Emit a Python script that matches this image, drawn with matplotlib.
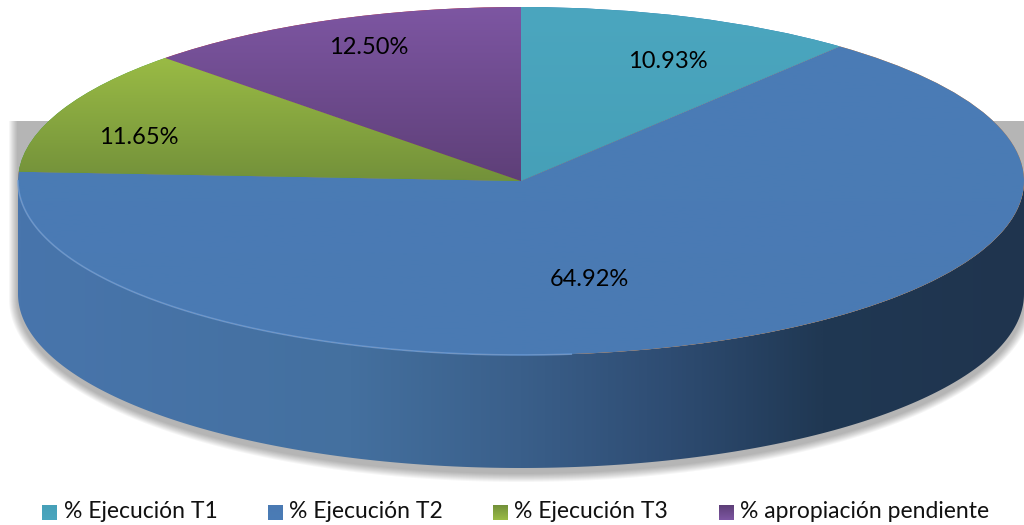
import numpy as np
import matplotlib
matplotlib.use("Agg")
import matplotlib.pyplot as plt
from matplotlib.colors import LinearSegmentedColormap
from matplotlib.patches import Polygon, Rectangle

labels = ["% Ejecución T1", "% Ejecución T2", "% Ejecución T3", "% apropiación pendiente"]
values = [10.93, 64.92, 11.65, 12.50]
top_colors = ["#4BA6BF", "#4A7CB6", "#9ABB45", "#7D56A2"]
bottom_colors = ["#46A0B8", "#4A7AB3", "#73913A", "#5E3F78"]

# picture geometry in pixels
W, H = 1024, 525
cx, cy, rx, ry = 521, 181, 503, 174
depth = 113


def px(x):
    return (x - cx) / rx


def py(y):
    return (cy - y) / ry


plt.rcParams["font.family"] = ["Lato", "DejaVu Sans"]
fig = plt.figure(figsize=(W / 100, H / 100), dpi=100)
ax = fig.add_axes([0, 0, 1, 1])

wedges, _ = ax.pie(values, startangle=90, counterclock=False, radius=1, center=(0, 0))
ax.set_aspect("auto")
ax.set_xlim(px(0), px(W))
ax.set_ylim(py(H), py(0))
d = depth / ry

# soft shadow behind the wall
t = np.linspace(np.pi, 2 * np.pi, 200)
ex, ey = np.cos(t), np.sin(t)
for grow in np.linspace(9, 1, 9):
    gx = grow / rx
    gy = grow / ry
    outline = np.vstack([
        np.column_stack([(1 + gx) * ex, (1 + gy) * ey - d - 5 / ry]),
        [[1 + gx, 60 / ry], [-1 - gx, 60 / ry]],
    ])
    shadow = Polygon(outline, closed=True, fc="black", ec="none", alpha=0.035, zorder=1)
    ax.add_patch(shadow)

# side wall with horizontal gradient
wall_cmap = LinearSegmentedColormap.from_list("wall", [
    (0.0, "#4875AC"), (0.33, "#44709F"), (0.5, "#3A5F8A"),
    (0.65, "#2E4C72"), (0.8, "#203853"), (1.0, "#1F344E"),
])
wall_outline = np.vstack([
    np.column_stack([ex, ey - d]),
    np.column_stack([ex[::-1], ey[::-1]]),
])
wall = Polygon(wall_outline, closed=True, fc="none", ec="none", zorder=2)
ax.add_patch(wall)
wall_img = ax.imshow(np.linspace(0, 1, 512).reshape(1, -1), cmap=wall_cmap, aspect="auto",
                     extent=(-1, 1, -1 - d, 0), zorder=2)
wall_img.set_clip_path(wall)

# top face: each wedge filled with a vertical gradient
for w, c1, c2 in zip(wedges, top_colors, bottom_colors):
    w.set_zorder(3)
    cmap = LinearSegmentedColormap.from_list("face", [c1, c2])
    # extents follow the wedge so the gradient runs top to bottom of that slice
    verts = w.get_path().vertices
    verts = w.get_patch_transform().transform(verts)
    x0, x1 = verts[:, 0].min(), verts[:, 0].max()
    y0, y1 = verts[:, 1].min(), verts[:, 1].max()
    img = ax.imshow(np.linspace(0, 1, 256).reshape(-1, 1), cmap=cmap, aspect="auto",
                    extent=(x0, x1, y1, y0), origin="lower", zorder=3)
    img.set_clip_path(w)

# the imshow calls change the limits, set them back
ax.set_xlim(px(0), px(W))
ax.set_ylim(py(H), py(0))

# light rim on the near edge of the blue slice
rim_t = np.linspace(np.pi, 1.5 * np.pi + 0.1, 150)
ax.plot(np.cos(rim_t), np.sin(rim_t), color="#6FA0DC", lw=1.2, alpha=0.7, zorder=4)

# value labels
label_pos = [(668, 62), (589, 280), (139, 137), (369, 48)]
for v, (x, y) in zip(values, label_pos):
    ax.text(px(x), py(y), "%.2f%%" % v, ha="center", va="center", fontsize=17, color="black", zorder=5)

# legend
swatch_x = [42, 268, 493, 719]
text_x = [64, 289, 514, 740]
for x, tx, lab, c1, c2 in zip(swatch_x, text_x, labels, top_colors, bottom_colors):
    cmap = LinearSegmentedColormap.from_list("sw", [c1, c2])
    box = Rectangle((px(x), py(520)), 15 / rx, 15 / ry, fc="none", ec="none", zorder=5)
    ax.add_patch(box)
    sw = ax.imshow(np.linspace(1, 0, 32).reshape(-1, 1), cmap=cmap, aspect="auto",
                   extent=(px(x), px(x + 15), py(520), py(505)), zorder=5)
    sw.set_clip_path(box)
    ax.text(px(tx), py(512), lab, ha="left", va="center", fontsize=16.5, color="#111111")

ax.set_xlim(px(0), px(W))
ax.set_ylim(py(H), py(0))
ax.axis("off")
fig.savefig("out.png", dpi=100, facecolor="white")
